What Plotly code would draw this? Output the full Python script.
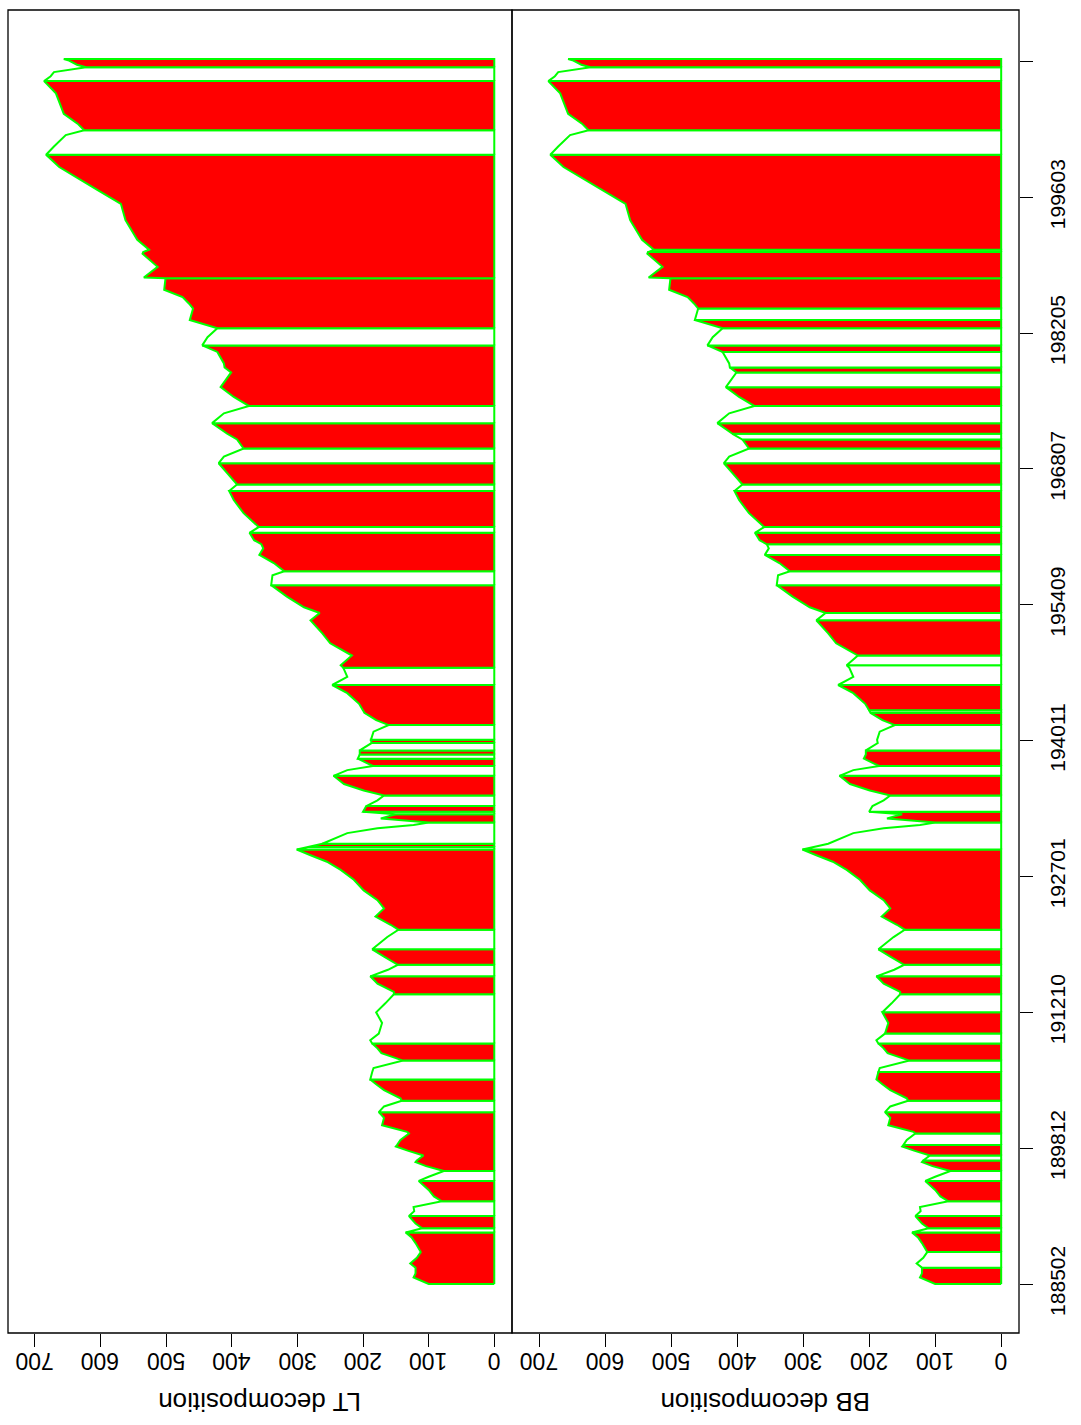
import plotly.graph_objects as go

# ---------------- data (month index 1 = 188502) ----------------
month_idx = [1, 9, 14, 21, 26, 33, 40, 51, 58, 64, 69, 75, 84, 90, 95, 102, 108, 116, 127, 132,
             139, 145, 150, 152, 158, 164, 169, 171, 177, 185, 187, 195, 204, 211, 218, 225, 228, 238,
             245, 251, 260, 265, 274, 283, 289, 295, 299, 307, 320, 333, 344, 355, 358, 368, 377, 385,
             391, 401, 410, 425, 434, 440, 450, 460, 470, 482, 495, 507, 517, 525, 532, 535, 539, 552,
             558, 562, 565, 570, 575, 578, 585, 592, 598, 604, 612, 622, 629, 634, 643, 648, 653, 662,
             666, 676, 684, 690, 699, 702, 710, 723, 733, 743, 754, 757, 769, 784, 796, 812, 821, 828,
             841, 855, 867, 872, 882, 892, 900, 905, 910, 919, 926, 943, 959, 970, 978, 992, 1004, 1012,
             1022, 1033, 1040, 1053, 1065, 1074, 1085, 1097, 1115, 1121, 1126, 1140, 1148, 1158, 1169,
             1179, 1193, 1199, 1207, 1216, 1230, 1231, 1244, 1260, 1262, 1265, 1277, 1301, 1321, 1338,
             1354, 1366, 1381, 1391, 1405, 1411, 1419, 1431, 1456, 1471, 1477, 1482, 1488, 1491, 1496,
             1498]
series_value = [100, 123, 120, 120, 128, 118, 112, 120, 126, 135, 110, 120, 130, 122, 123, 80, 92, 100,
                115, 100, 77, 104, 120, 118, 108, 132, 150, 148, 143, 130, 133, 171, 168, 176, 168, 141,
                143, 168, 180, 189, 186, 184, 139, 172, 178, 186, 189, 176, 171, 180, 166, 153, 153, 178,
                189, 162, 147, 168, 186, 163, 146, 158, 181, 168, 178, 199, 214, 234, 255, 280, 301, 284,
                262, 224, 178, 123, 100, 173, 150, 200, 195, 178, 168, 199, 229, 245, 224, 185, 208, 205,
                205, 187, 188, 184, 161, 180, 198, 200, 206, 224, 247, 224, 230, 234, 217, 250, 262, 280,
                266, 290, 316, 340, 338, 320, 336, 358, 352, 355, 366, 373, 359, 382, 397, 404, 392, 407,
                420, 412, 382, 392, 407, 430, 412, 374, 397, 417, 401, 411, 412, 422, 445, 437, 422, 464,
                459, 465, 475, 503, 501, 534, 513, 536, 535, 526, 544, 562, 569, 605, 638, 663, 683, 671,
                653, 625, 635, 656, 668, 686, 676, 671, 622, 636, 648, 656]

# LT decomposition: segment breaks and fill of each segment
lt_breaks = [1, 64, 69, 84, 102, 127, 139, 211, 225, 251, 274, 295, 355, 377, 391, 410, 434, 532, 535,
             539, 565, 575, 578, 585, 598, 622, 634, 643, 648, 653, 662, 666, 684, 733, 754, 855, 872,
             919, 926, 970, 978, 1004, 1022, 1053, 1074, 1148, 1169, 1230, 1381, 1411, 1471, 1488, 1498]
lt_fills = ["red", "white"] * 23 + ["red", "red", "white", "red", "white", "red"]

# BB decomposition
bb_breaks = [1, 21, 40, 64, 69, 84, 102, 127, 139, 152, 158, 171, 185, 211, 225, 260, 274, 295, 307,
             333, 355, 377, 391, 410, 434, 532, 565, 578, 598, 622, 634, 653, 684, 699, 702, 733, 757,
             769, 812, 821, 855, 872, 892, 905, 919, 926, 970, 978, 1004, 1022, 1033, 1040, 1053, 1074,
             1097, 1115, 1121, 1140, 1148, 1169, 1179, 1193, 1230, 1262, 1265, 1381, 1411, 1471, 1488,
             1498]
bb_fills = (["red", "white"] * 18 + ["white"] +
            ["red", "white"] * 12 + ["red", "red", "white", "red", "white", "red", "white", "red"])

time_tick_idx = [1, 167, 333, 499, 665, 831, 997, 1163, 1329, 1495]
time_tick_lab = ["188502", "189812", "191210", "192701", "194011", "195409", "196807",
                 "198205", "199603", ""]
value_ticks = [0, 100, 200, 300, 400, 500, 600, 700]
panel_titles = ["LT decomposition", "BB decomposition"]

assert len(lt_fills) == len(lt_breaks) - 1
assert len(bb_fills) == len(bb_breaks) - 1
assert len(month_idx) == len(series_value)

GREEN = "#00FF00"
FILL = {"red": "#FF0000", "white": "#FFFFFF"}

fig = go.Figure()


def add_panel(breaks, fills, xref):
    for k in range(len(breaks) - 1):
        s, e = breaks[k], breaks[k + 1]
        pts = [(t, v) for t, v in zip(month_idx, series_value) if s <= t <= e]
        xs = [0] + [v for _, v in pts] + [0, 0]
        ys = [s] + [t for t, _ in pts] + [e, s]
        fig.add_trace(go.Scatter(
            x=xs, y=ys, mode="lines", fill="toself",
            fillcolor=FILL[fills[k]],
            line=dict(color=GREEN, width=2),
            xaxis=xref, yaxis="y", hoverinfo="skip", showlegend=False))


add_panel(lt_breaks, lt_fills, "x")
add_panel(bb_breaks, bb_fills, "x2")

# geometry (pixels)
W, H = 1081, 1425
L, R, T, B = 8, 1019, 10, 1333
split = 512
dom_split = (split - L) / (R - L)

N = month_idx[-1]
ypad = 0.04 * (N - 1)
yrange = [1 - ypad, N + ypad]
xrange = [741, -27]

FAM = "Liberation Sans, Arial, Helvetica, sans-serif"
FONT_V = dict(family=FAM, size=23, color="black")
FONT_L = dict(family=FAM, size=26, color="black")
FONT_T = dict(family=FAM, size=21, color="black")

xax = dict(range=xrange, tickvals=value_ticks, showticklabels=False,
           ticks="outside", ticklen=13, tickwidth=1.2, tickcolor="black",
           showgrid=False, zeroline=False, showline=False, anchor="y")

fig.update_layout(
    width=W, height=H,
    margin=dict(l=L, r=W - R, t=T, b=H - B, pad=0),
    paper_bgcolor="white", plot_bgcolor="white",
    xaxis=dict(domain=[0, dom_split], **xax),
    xaxis2=dict(domain=[dom_split, 1], **xax),
    yaxis=dict(range=yrange, tickvals=time_tick_idx, ticktext=time_tick_lab,
               tickangle=-90, side="right", anchor="x2", ticks="outside", ticklen=13,
               tickwidth=1.2, tickcolor="black", showgrid=False, zeroline=False,
               showline=False, tickfont=FONT_T, ticklabelstandoff=7),
    showlegend=False,
)

# panel frames
for x0, x1 in [(0, dom_split), (dom_split, 1)]:
    fig.add_shape(type="rect", xref="paper", yref="paper", x0=x0, x1=x1, y0=0, y1=1,
                  line=dict(color="black", width=1.3), layer="above")

# upside-down value tick labels (R axis rotated), placed exactly under the ticks
lab_y = -(1361 - B) / (B - T)
for xr in ["x", "x2"]:
    for v in value_ticks:
        fig.add_annotation(text=str(v), xref=xr, yref="paper", x=v, y=lab_y,
                           showarrow=False, textangle=180, font=FONT_V,
                           xanchor="center", yanchor="middle")

# upside-down axis titles
title_y = -(1402 - B) / (B - T)
for i, txt in enumerate(panel_titles):
    cx = (dom_split / 2) if i == 0 else (dom_split + (1 - dom_split) / 2)
    fig.add_annotation(text=txt, xref="paper", yref="paper", x=cx, y=title_y,
                       showarrow=False, textangle=180, font=FONT_L,
                       xanchor="center", yanchor="middle")

fig.write_html("out.html")
